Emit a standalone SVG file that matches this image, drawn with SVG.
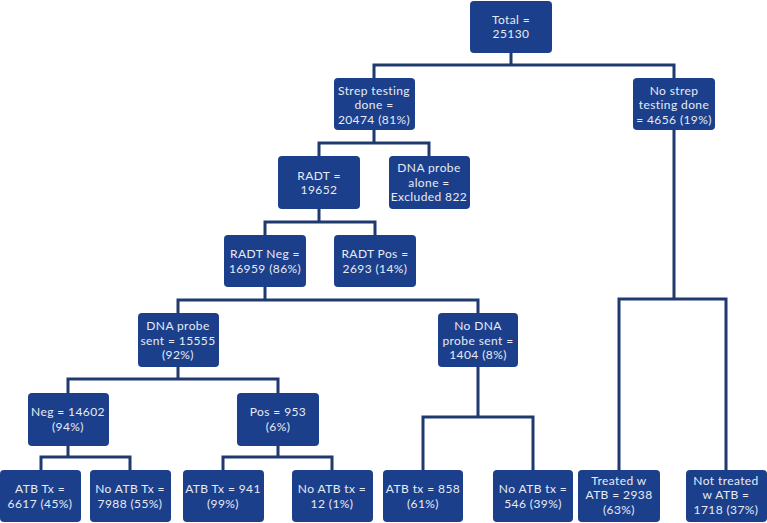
<svg xmlns="http://www.w3.org/2000/svg" width="767" height="523" viewBox="0 0 767 523">
<style>
.b{fill:#1c3f8b}
.t{font-family:Lato,"Open Sans","Liberation Sans",sans-serif;font-size:12px;letter-spacing:0.4px;fill:#e6ebf4;text-anchor:middle}
.c{fill:none;stroke:#1f3a6e;stroke-width:3}
</style>
<rect width="767" height="523" fill="#ffffff"/>
<g id="connectors">
<path class="c" d="M511 53V65M374 78V65H674V78"/>
<path class="c" d="M374 130V143M319 156V143H429V156"/>
<path class="c" d="M319 209V222M265 235V222H375V235"/>
<path class="c" d="M265 287V300M178 313V300H478V313"/>
<path class="c" d="M178 367V379M68 393V379H278V393"/>
<path class="c" d="M68 446V457M41 470V457H130V470"/>
<path class="c" d="M278 446V457M223 470V457H332V470"/>
<path class="c" d="M478 367V417M423 470V417H533V470"/>
<path class="c" d="M674 130V299M619 470V299H726V470"/>
</g>
<g id="n-total"><rect class="b" x="470" y="1" width="82" height="52" rx="4"/><text class="t" x="511" y="23.5">Total =</text><text class="t" x="511" y="38">25130</text></g>
<g id="n-strep"><rect class="b" x="334" y="78" width="81" height="52" rx="4"/><text class="t" x="374" y="94.5">Strep testing</text><text class="t" x="374" y="109">done  =</text><text class="t" x="374" y="123.5">20474 (81%)</text></g>
<g id="n-nostrep"><rect class="b" x="633" y="78" width="82" height="52" rx="4"/><text class="t" x="674" y="94.5">No strep</text><text class="t" x="674" y="109">testing done</text><text class="t" x="674" y="123.5">= 4656 (19%)</text></g>
<g id="n-radt"><rect class="b" x="278" y="156" width="82" height="53" rx="4"/><text class="t" x="319" y="179.5">RADT =</text><text class="t" x="319" y="194">19652</text></g>
<g id="n-dnaalone"><rect class="b" x="389" y="156" width="81" height="53" rx="4"/><text class="t" x="429" y="172">DNA probe</text><text class="t" x="429" y="186.5">alone =</text><text class="t" x="429" y="201">Excluded 822</text></g>
<g id="n-radtneg"><rect class="b" x="224" y="235" width="82" height="52" rx="4"/><text class="t" x="265" y="258">RADT Neg  =</text><text class="t" x="265" y="272.5">16959 (86%)</text></g>
<g id="n-radtpos"><rect class="b" x="334" y="235" width="82" height="52" rx="4"/><text class="t" x="375" y="258">RADT Pos =</text><text class="t" x="375" y="272.5">2693 (14%)</text></g>
<g id="n-dnasent"><rect class="b" x="138" y="313" width="81" height="54" rx="4"/><text class="t" x="178" y="330">DNA probe</text><text class="t" x="178" y="344.5">sent = 15555</text><text class="t" x="178" y="359">(92%)</text></g>
<g id="n-nodna"><rect class="b" x="438" y="313" width="80" height="54" rx="4"/><text class="t" x="478" y="330">No DNA</text><text class="t" x="478" y="344.5">probe sent =</text><text class="t" x="478" y="359">1404 (8%)</text></g>
<g id="n-neg"><rect class="b" x="28" y="393" width="81" height="53" rx="4"/><text class="t" x="68" y="416">Neg = 14602</text><text class="t" x="68" y="430.5">(94%)</text></g>
<g id="n-pos"><rect class="b" x="237" y="393" width="82" height="53" rx="4"/><text class="t" x="278" y="416">Pos = 953</text><text class="t" x="278" y="430.5">(6%)</text></g>
<g id="n-atb1"><rect class="b" x="0" y="470" width="81" height="52" rx="4"/><text class="t" x="40" y="493">ATB Tx =</text><text class="t" x="40" y="507.5">6617 (45%)</text></g>
<g id="n-noatb1"><rect class="b" x="90" y="470" width="81" height="52" rx="4"/><text class="t" x="130" y="493">No ATB Tx =</text><text class="t" x="130" y="507.5">7988 (55%)</text></g>
<g id="n-atb2"><rect class="b" x="183" y="470" width="81" height="52" rx="4"/><text class="t" x="223" y="493">ATB Tx = 941</text><text class="t" x="223" y="507.5">(99%)</text></g>
<g id="n-noatb2"><rect class="b" x="292" y="470" width="81" height="52" rx="4"/><text class="t" x="332" y="493">No ATB tx =</text><text class="t" x="332" y="507.5">12 (1%)</text></g>
<g id="n-atb3"><rect class="b" x="383" y="470" width="80" height="52" rx="4"/><text class="t" x="423" y="493">ATB tx = 858</text><text class="t" x="423" y="507.5">(61%)</text></g>
<g id="n-noatb3"><rect class="b" x="493" y="470" width="80" height="52" rx="4"/><text class="t" x="533" y="493">No ATB tx =</text><text class="t" x="533" y="507.5">546 (39%)</text></g>
<g id="n-treated"><rect class="b" x="578" y="470" width="82" height="52" rx="4"/><text class="t" x="619" y="484.5">Treated w</text><text class="t" x="619" y="499">ATB = 2938</text><text class="t" x="619" y="513.5">(63%)</text></g>
<g id="n-nottreated"><rect class="b" x="686" y="470" width="81" height="52" rx="4"/><text class="t" x="726" y="484.5">Not treated</text><text class="t" x="726" y="499">w ATB =</text><text class="t" x="726" y="513.5">1718 (37%)</text></g>
</svg>
